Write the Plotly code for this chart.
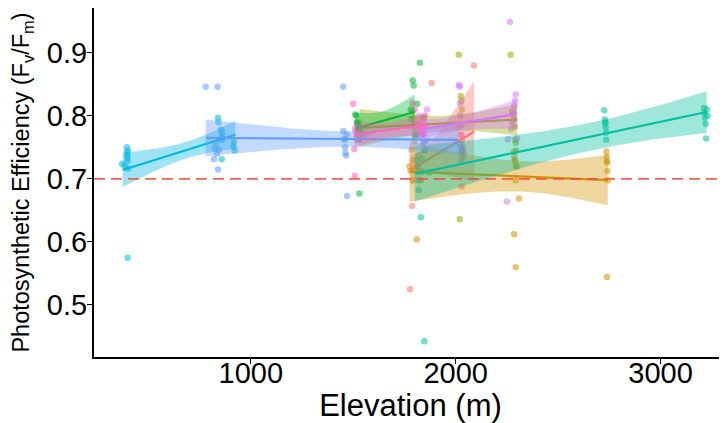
import numpy as np
import plotly.graph_objects as go

# ---------------- data ----------------
group_names = ["A", "B", "C", "D", "E", "F", "G", "H", "I"]
group_colors = ["#F8766D", "#D39200", "#93AA00", "#00BA38", "#00C19F",
                "#00B9E3", "#619CFF", "#DB72FB", "#FF61C3"]

red_x = [1777, 1785, 1787, 1790, 1800, 1810, 1820, 1835, 1850, 1883,
         2020, 2025, 2029, 2030, 2035, 2040, 2089]
red_y = [0.525, 0.746, 0.657, 0.730, 0.760, 0.720, 0.737, 0.712, 0.745, 0.852,
         0.800, 0.770, 0.688, 0.760, 0.750, 0.740, 0.880]

orange_x = [1775, 1780, 1790, 1800, 1810, 1820, 1830, 1845,
            2284, 2286, 2288, 2290, 2292, 2309, 2285, 2293, 2295,
            2735, 2737, 2738, 2740, 2741, 2742, 2738]
orange_y = [0.720, 0.713, 0.698, 0.767, 0.604, 0.713, 0.698, 0.797,
            0.743, 0.735, 0.730, 0.728, 0.698, 0.669, 0.612, 0.560, 0.720,
            0.7435, 0.735, 0.728, 0.7257, 0.7127, 0.698, 0.5445]

olive_x = [1530, 1535, 1540, 1790, 1795, 1800, 1805, 1810, 1815,
           2015, 2020, 2025, 2028, 2030, 2032,
           2268, 2275, 2280, 2285, 2288, 2290, 2293, 2295, 2298]
olive_y = [0.790, 0.780, 0.772, 0.807, 0.797, 0.784, 0.775, 0.770, 0.785,
           0.897, 0.636, 0.831, 0.824, 0.810, 0.745,
           0.897, 0.807, 0.802, 0.794, 0.783, 0.762, 0.757, 0.745, 0.7196]

green_x = [1510, 1515, 1518, 1520, 1522, 1525, 1528, 1530,
           1780, 1785, 1790, 1795, 1800, 1805, 1812, 1825]
green_y = [0.802, 0.800, 0.790, 0.788, 0.786, 0.778, 0.762, 0.677,
           0.810, 0.795, 0.856, 0.848, 0.787, 0.770, 0.819, 0.884]

teal_x = [1810, 1815, 1818, 1820, 1830, 1847, 1835, 1840, 1845, 1850, 1870,
          2725, 2728, 2730, 2732, 2733, 2735, 2730,
          3212, 3215, 3218, 3220, 3222, 3226, 3230]
teal_y = [0.730, 0.720, 0.698, 0.6825, 0.639, 0.4425, 0.731, 0.797, 0.758, 0.745, 0.710,
          0.809, 0.794, 0.7876, 0.781, 0.773, 0.762, 0.790,
          0.8125, 0.8046, 0.797, 0.7876, 0.764, 0.810, 0.800]

cyan_x = [372, 385, 399, 395, 396, 397, 398, 399, 400, 401,
          840, 842, 855, 859, 860, 862, 858, 915, 918, 922]
cyan_y = [0.724, 0.720, 0.575, 0.750, 0.742, 0.738, 0.733, 0.728, 0.745, 0.716,
          0.797, 0.790, 0.778, 0.773, 0.767, 0.762, 0.731, 0.751, 0.758, 0.745]

blue_x = [780, 820, 825, 830, 835, 838, 840, 845,
          1451, 1452, 1455, 1458, 1460, 1462, 1465, 1470, 1468,
          2018, 2022, 2025, 2028, 2030, 2032, 2035]
blue_y = [0.846, 0.731, 0.748, 0.756, 0.740, 0.846, 0.715, 0.746,
          0.846, 0.776, 0.763, 0.762, 0.750, 0.741, 0.737, 0.673, 0.770,
          0.783, 0.755, 0.741, 0.730, 0.750, 0.745, 0.735]

magenta_x = [1820, 1828, 1835, 1840, 1845, 1850, 1860,
             2015, 2020, 2022, 2025, 2028, 2030, 2035,
             2250, 2265, 2255, 2270, 2275, 2280, 2285, 2290, 2293, 2300]
magenta_y = [0.800, 0.790, 0.770, 0.755, 0.745, 0.785, 0.810,
             0.849, 0.846, 0.820, 0.800, 0.785, 0.770, 0.745,
             0.664, 0.949, 0.763, 0.780, 0.790, 0.806, 0.815, 0.824, 0.834, 0.764]

pink_x = [1500, 1505, 1508, 1510, 1512, 1515,
          1790, 1800, 1810, 1820, 1830, 1840, 1850, 1860]
pink_y = [0.819, 0.747, 0.705, 0.780, 0.775, 0.765,
          0.820, 0.810, 0.790, 0.785, 0.775, 0.770, 0.800, 0.760]

# fitted linear trend per group (ends of line) and confidence half-widths
fit_x0 = [1780, 1775, 1530, 1510, 1800, 375, 780, 1815, 1505]
fit_x1 = [2090, 2742, 2300, 1800, 3225, 925, 2015, 2300, 1860]
fit_y0 = [0.714, 0.7116, 0.781, 0.780, 0.708, 0.714, 0.765, 0.778, 0.770]
fit_y1 = [0.775, 0.698, 0.794, 0.806, 0.806, 0.770, 0.762, 0.803, 0.786]
ci_hw0 = [0.025, 0.048, 0.030, 0.025, 0.044, 0.027, 0.029, 0.016, 0.020]
ci_hwmin = [0.020, 0.024, 0.012, 0.015, 0.022, 0.013, 0.012, 0.012, 0.012]
ci_hw1 = [0.080, 0.040, 0.025, 0.028, 0.033, 0.022, 0.023, 0.023, 0.018]

threshold = 0.7
x_ticks = [1000, 2000, 3000]
y_ticks = [0.5, 0.6, 0.7, 0.8, 0.9]

points_x = [red_x, orange_x, olive_x, green_x, teal_x, cyan_x, blue_x, magenta_x, pink_x]
points_y = [red_y, orange_y, olive_y, green_y, teal_y, cyan_y, blue_y, magenta_y, pink_y]


def rgba(hex_color, a):
    h = hex_color.lstrip("#")
    r, g, b = int(h[0:2], 16), int(h[2:4], 16), int(h[4:6], 16)
    return f"rgba({r},{g},{b},{a})"


fig = go.Figure()

# points
for name, col, xs, ys in zip(group_names, group_colors, points_x, points_y):
    fig.add_trace(go.Scatter(
        x=xs, y=ys, mode="markers", name=name, showlegend=False,
        marker=dict(size=6.5, color=rgba(col, 0.55), line=dict(width=0)),
        hoverinfo="skip"))

# smooth lines with confidence ribbons
for i, col in enumerate(group_colors):
    x0, x1 = fit_x0[i], fit_x1[i]
    a = ci_hwmin[i]
    p = np.sqrt(max(ci_hw0[i] ** 2 - a ** 2, 0))
    q = np.sqrt(max(ci_hw1[i] ** 2 - a ** 2, 0))
    c = (p * x1 + q * x0) / (p + q)
    b = (p + q) / (x1 - x0)
    xs = np.linspace(x0, x1, 80)
    fit = fit_y0[i] + (fit_y1[i] - fit_y0[i]) * (xs - x0) / (x1 - x0)
    hw = np.sqrt(a ** 2 + (b * (xs - c)) ** 2)
    fig.add_trace(go.Scatter(
        x=np.concatenate([xs, xs[::-1]]),
        y=np.concatenate([fit + hw, (fit - hw)[::-1]]),
        fill="toself", fillcolor=rgba(col, 0.38), mode="lines",
        line=dict(width=0, color=rgba(col, 0)), showlegend=False,
        hoverinfo="skip"))
    fig.add_trace(go.Scatter(
        x=xs, y=fit, mode="lines", line=dict(color=col, width=2.2),
        showlegend=False, hoverinfo="skip"))

fig.add_hline(y=threshold, line=dict(color="rgba(248,70,60,0.85)", width=1.6,
                                     dash="11px,6px"), layer="above")

font_family = "Liberation Sans, Arial, Helvetica, sans-serif"

# the page body adds an 8px offset, so the figure is sized to fit the window
fig.update_layout(
    width=719, height=415,
    margin=dict(l=86, r=0, t=0, b=66),
    plot_bgcolor="white", paper_bgcolor="white",
    font=dict(family=font_family, color="black"),
    showlegend=False,
)
fig.update_xaxes(
    range=[235, 3324], tickvals=x_ticks, ticktext=[str(v) for v in x_ticks],
    showline=True, linecolor="black", linewidth=2,
    ticks="outside", ticklen=5, tickwidth=1.2, tickcolor="black",
    showgrid=False, zeroline=False, automargin=False,
    tickfont=dict(size=29, color="black"), ticklabelstandoff=-16,
    title=dict(text="Elevation (m)", font=dict(size=31, color="black"), standoff=6),
)
fig.update_yaxes(
    range=[0.4175, 0.971], tickvals=y_ticks, ticktext=[f"{v:.1f}" for v in y_ticks],
    showline=True, linecolor="black", linewidth=2,
    ticks="outside", ticklen=5, tickwidth=1.2, tickcolor="black",
    showgrid=False, zeroline=False, automargin=False,
    tickfont=dict(size=29, color="black"), ticklabelstandoff=-6,
    title=dict(text="Photosynthetic Efficiency (F<sub>v</sub>/F<sub>m</sub>)",
               font=dict(size=23.5, color="black"), standoff=13),
)

fig.write_html("out.html")
